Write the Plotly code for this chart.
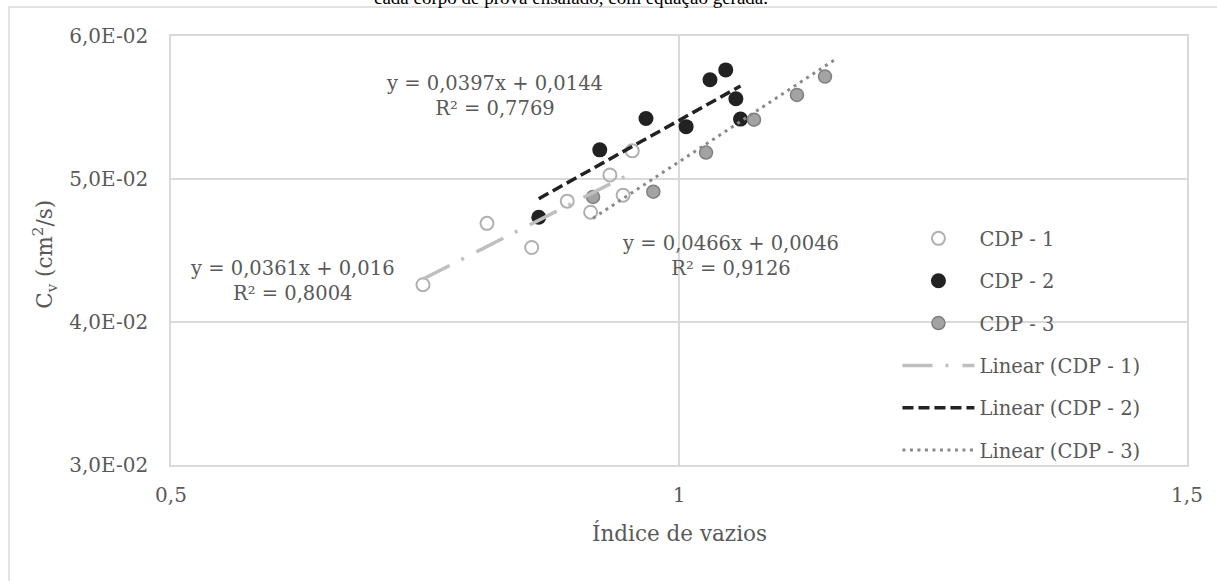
import plotly.graph_objects as go

# Void ratio (x) and coefficient of consolidation Cv (y) for each specimen
void_cdp1 = [0.748, 0.811, 0.855, 0.890, 0.913, 0.932, 0.945, 0.954]
cv_cdp1 = [0.04261, 0.04690, 0.04521, 0.04845, 0.04768, 0.05028, 0.04887, 0.05197]

void_cdp2 = [0.862, 0.922, 0.9675, 1.007, 1.0305, 1.046, 1.056, 1.0605]
cv_cdp2 = [0.04732, 0.05204, 0.05423, 0.05366, 0.05694, 0.05763, 0.05561, 0.05419]

void_cdp3 = [0.9154, 0.9747, 1.0266, 1.0738, 1.1161, 1.1437]
cv_cdp3 = [0.04875, 0.04911, 0.05185, 0.05415, 0.05588, 0.05716]

# Linear trendlines: slope, intercept, R²
fit_cdp1 = (0.0361, 0.016, 0.8004)
fit_cdp2 = (0.0397, 0.0144, 0.7769)
fit_cdp3 = (0.0466, 0.0046, 0.9126)
forecast_cdp3 = 0.011  # forward extension of the CDP-3 trendline

series_names = ["CDP - 1", "CDP - 2", "CDP - 3"]
x_tickvals = [0.5, 1.0, 1.5]
x_ticktext = ["0,5", "1", "1,5"]
y_tickvals = [0.03, 0.04, 0.05, 0.06]
y_ticktext = ["3,0E-02", "4,0E-02", "5,0E-02", "6,0E-02"]

FONT = "DejaVu Serif"
TXT = "#595959"
GRID = "#d9d9d9"


def fmt(v):
    return f"{v}".replace(".", ",")


def trend(xs, fit, extra=0.0):
    a, b, _ = fit
    x0, x1 = min(xs), max(xs) + extra
    return [x0, x1], [a * x0 + b, a * x1 + b]


fig = go.Figure()

fig.add_trace(go.Scatter(
    x=void_cdp1, y=cv_cdp1, mode="markers", name=series_names[0], legendgroup="g1",
    marker=dict(symbol="circle-open", size=13, color="#b0b0b0", line=dict(width=2, color="#b0b0b0")),
))
fig.add_trace(go.Scatter(
    x=void_cdp2, y=cv_cdp2, mode="markers", name=series_names[1], legendgroup="g2",
    marker=dict(symbol="circle", size=15, color="#222222", line=dict(width=0)),
))
fig.add_trace(go.Scatter(
    x=void_cdp3, y=cv_cdp3, mode="markers", name=series_names[2], legendgroup="g3",
    marker=dict(symbol="circle", size=13, color="#a3a3a3", line=dict(width=1.5, color="#7f7f7f")),
))

tx, ty = trend(void_cdp1, fit_cdp1)
fig.add_trace(go.Scatter(
    x=tx, y=ty, mode="lines", name=f"Linear ({series_names[0]})", legendgroup="g4",
    line=dict(color="#bfbfbf", width=3.5, dash="30px,13px,3px,14px"),
))
tx, ty = trend(void_cdp2, fit_cdp2)
fig.add_trace(go.Scatter(
    x=tx, y=ty, mode="lines", name=f"Linear ({series_names[1]})", legendgroup="g5",
    line=dict(color="#222222", width=3.5, dash="11px,5px"),
))
tx, ty = trend(void_cdp3, fit_cdp3, forecast_cdp3)
fig.add_trace(go.Scatter(
    x=tx, y=ty, mode="lines", name=f"Linear ({series_names[2]})", legendgroup="g6",
    line=dict(color="#8a8a8a", width=3, dash="3px,4.5px"),
))


def eq_label(fit):
    a, b, r2 = fit
    return f"y = {fmt(a)}x + {fmt(b)}<br>R² = {fmt(r2)}"


annotations = [
    dict(x=0.8184, y=0.05577, text=eq_label(fit_cdp2)),
    dict(x=0.6196, y=0.04287, text=eq_label(fit_cdp1)),
    dict(x=1.0507, y=0.04462, text=eq_label(fit_cdp3)),
]
for a in annotations:
    a.update(xref="x", yref="y", showarrow=False, align="center",
             xanchor="center", yanchor="middle",
             font=dict(family=FONT, size=19.5, color=TXT))

# Axis titles
annotations.append(dict(
    xref="paper", yref="paper", x=0.5, y=-0.1585, xanchor="center", yanchor="middle",
    text="Índice de vazios",
    showarrow=False, font=dict(family=FONT, size=21.5, color=TXT),
))
annotations.append(dict(
    xref="paper", yref="paper", x=-0.124, y=0.49, xanchor="center", yanchor="middle",
    text="C<sub>v</sub> (cm<sup>2</sup>/s)",
    textangle=-90, showarrow=False, font=dict(family=FONT, size=21.5, color=TXT),
))
# Caption line above the chart frame
annotations.append(dict(
    xref="paper", yref="paper", x=0.394, y=1.089, xanchor="center", yanchor="middle",
    text="cada corpo de prova ensaiado, com equação gerada.",
    showarrow=False, font=dict(family="Liberation Serif", size=19, color="#000000"),
))

fig.update_layout(
    width=1217, height=581,
    margin=dict(l=171, r=30, t=36, b=116),
    paper_bgcolor="white", plot_bgcolor="white",
    font=dict(family=FONT, size=20, color=TXT),
    showlegend=True,
    legend=dict(
        x=0.715, y=0.573, xanchor="left", yanchor="top",
        bgcolor="rgba(0,0,0,0)", borderwidth=0,
        font=dict(family=FONT, size=19.5, color=TXT),
        traceorder="grouped", tracegroupgap=14, itemwidth=72,
    ),
    annotations=annotations,
    shapes=[dict(
        type="rect", xref="paper", yref="paper",
        x0=-0.1594, x1=1.1, y0=-0.6, y1=1.0676,
        line=dict(color=GRID, width=1.5), fillcolor="rgba(0,0,0,0)", layer="below",
    )],
)

fig.update_xaxes(
    range=[0.5, 1.5], tickvals=x_tickvals, ticktext=x_ticktext,
    showgrid=True, gridcolor=GRID, gridwidth=1.5,
    showline=True, linecolor=GRID, linewidth=1.5, mirror=True,
    zeroline=False, ticks="", ticklabelstandoff=11,
    tickfont=dict(family=FONT, size=20, color=TXT),
)
fig.update_yaxes(
    range=[0.03, 0.06], tickvals=y_tickvals, ticktext=y_ticktext,
    showgrid=True, gridcolor=GRID, gridwidth=1.5,
    showline=True, linecolor=GRID, linewidth=1.5, mirror=True,
    zeroline=False, ticks="", ticklabelstandoff=17,
    tickfont=dict(family=FONT, size=20, color=TXT),
)

fig.write_html("out.html")
